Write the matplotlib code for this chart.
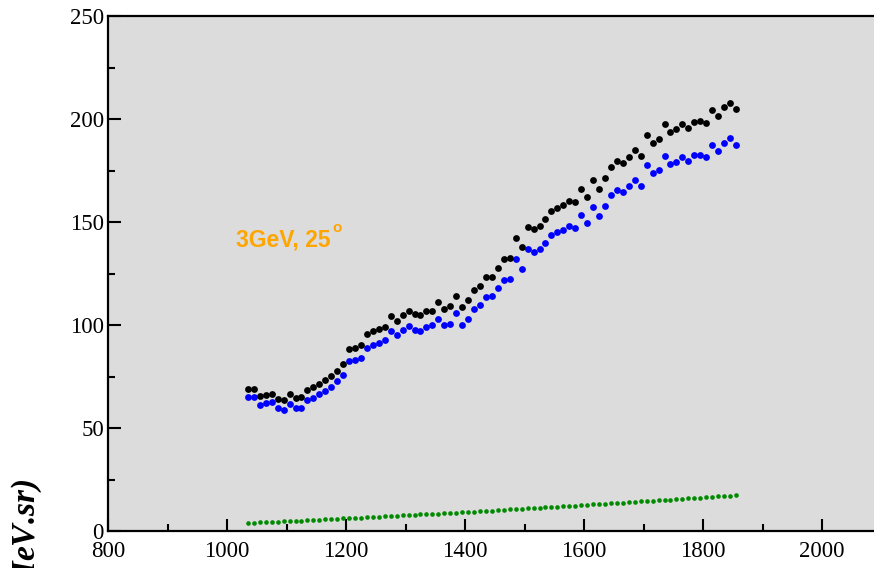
import numpy as np
import matplotlib
matplotlib.use("Agg")
import matplotlib.pyplot as plt
from matplotlib.ticker import MultipleLocator

# scattered-electron energy grid (MeV)
energy = np.arange(1035, 1865, 10)

total = [69.1, 69.1, 65.5, 66.2, 66.7, 64.2, 63.6, 66.4, 64.6, 64.9,
         68.4, 69.8, 71.4, 73.2, 75.2, 77.8, 81.3, 88.2, 88.8, 90.1,
         95.5, 96.9, 97.9, 99.2, 104.2, 101.9, 104.7, 106.9, 105.2, 104.7,
         106.7, 106.9, 111.0, 107.8, 109.2, 114.1, 108.6, 112.0, 117.2, 118.9,
         123.3, 123.3, 127.8, 131.9, 132.4, 142.4, 137.9, 147.7, 146.7, 148.2,
         151.5, 155.3, 156.8, 158.3, 160.3, 159.6, 165.8, 162.2, 170.4, 166.0,
         171.2, 176.7, 179.5, 178.5, 181.7, 184.8, 181.9, 192.2, 188.5, 190.1,
         197.4, 193.8, 195.0, 197.4, 195.6, 198.7, 199.0, 197.9, 204.2, 201.5,
         205.7, 207.9, 204.9]

subtracted = [65.2, 65.2, 61.3, 62.1, 62.5, 59.6, 58.9, 61.7, 59.9, 59.9,
              63.4, 64.7, 66.4, 68.0, 70.0, 72.7, 75.7, 82.3, 83.2, 84.1,
              88.8, 90.3, 91.4, 92.6, 97.1, 95.0, 97.6, 99.7, 97.7, 97.1,
              99.0, 100.0, 103.1, 100.0, 100.6, 105.7, 100.0, 103.1, 107.8, 109.7,
              113.8, 113.9, 118.0, 121.7, 122.2, 131.9, 127.0, 136.7, 135.6, 136.7,
              140.0, 143.5, 145.0, 146.0, 148.2, 146.9, 153.3, 149.4, 157.2, 152.9,
              157.8, 163.1, 165.5, 164.4, 167.5, 170.2, 167.3, 177.5, 173.6, 175.1,
              182.2, 178.3, 179.3, 181.6, 179.8, 182.5, 182.7, 181.4, 187.5, 184.6,
              188.3, 190.6, 187.4]

background = [3.90, 4.03, 4.16, 4.29, 4.43, 4.56, 4.70, 4.83, 4.97, 5.10,
              5.24, 5.38, 5.52, 5.66, 5.80, 5.95, 6.09, 6.23, 6.38, 6.52,
              6.67, 6.82, 6.97, 7.12, 7.27, 7.42, 7.57, 7.72, 7.87, 8.03,
              8.18, 8.34, 8.50, 8.66, 8.81, 8.97, 9.13, 9.29, 9.46, 9.62,
              9.78, 9.95, 10.11, 10.28, 10.45, 10.61, 10.78, 10.95, 11.12, 11.30,
              11.47, 11.64, 11.81, 11.99, 12.17, 12.34, 12.52, 12.70, 12.88, 13.06,
              13.24, 13.42, 13.60, 13.78, 13.97, 14.15, 14.34, 14.53, 14.71, 14.90,
              15.09, 15.28, 15.47, 15.67, 15.86, 16.05, 16.25, 16.44, 16.64, 16.83,
              17.03, 17.23, 17.43]

fig = plt.figure(figsize=(8.74, 5.68), dpi=100)
ax = fig.add_axes([0.1236, 0.0651, 0.8764, 0.9067])
ax.set_facecolor("#dcdcdc")

ax.scatter(energy, subtracted, s=24, color="#0000ff", linewidths=0, zorder=3)
ax.scatter(energy, total, s=24, color="black", linewidths=0, zorder=4)
ax.scatter(energy, background, s=11, color="#008a00", linewidths=0, zorder=3)

ax.set_xlim(800, 2087)
ax.set_ylim(0, 250)
ax.xaxis.set_major_locator(MultipleLocator(200))
ax.xaxis.set_minor_locator(MultipleLocator(100))
ax.yaxis.set_major_locator(MultipleLocator(50))
ax.yaxis.set_minor_locator(MultipleLocator(25))
ax.tick_params(which="both", direction="in", width=1.5, colors="black",
               labelsize=16.5)
ax.tick_params(axis="x", pad=7)
ax.tick_params(axis="y", pad=3)
ax.tick_params(which="major", length=9)
ax.tick_params(which="minor", length=5)
for lab in ax.get_xticklabels() + ax.get_yticklabels():
    lab.set_family("Liberation Serif")
for side in ("left", "bottom", "top"):
    ax.spines[side].set_linewidth(1.6)
ax.spines["right"].set_visible(False)

t = ax.text(1015, 138.3, "3GeV, 25", color="#ffa500", fontsize=16.5,
            fontweight="bold", family="Liberation Sans", va="baseline")
ax.annotate("o", xy=(1, 1), xycoords=t, xytext=(1, -5),
            textcoords="offset points", color="#ffa500", fontsize=11,
            fontweight="bold", family="Liberation Sans", va="bottom")

fig.text(0.028, 0.158, r"d$^2\sigma$/d$\Omega$dE (nb/MeV.sr)", rotation=90,
         ha="center", va="top", fontsize=24, fontweight="bold",
         fontstyle="italic", family="Liberation Serif")

fig.savefig("out.png", dpi=100)
